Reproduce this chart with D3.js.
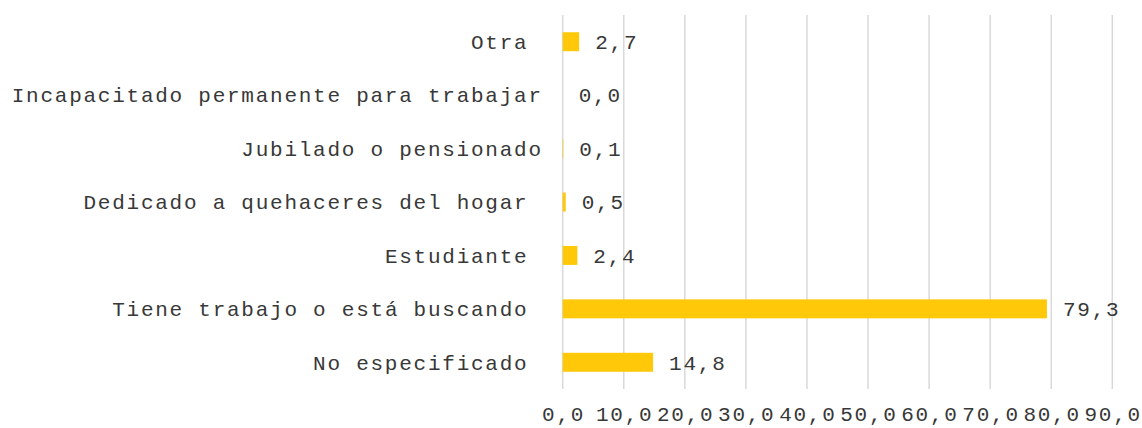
<!DOCTYPE html>
<html><head><meta charset="utf-8">
<script src="https://cdn.jsdelivr.net/npm/d3@7"></script>
<style>
html,body{margin:0;padding:0;background:#fff;}
text{font-family:"Liberation Mono","Courier New",monospace;white-space:pre;}
</style></head>
<body>
<svg id="chart" width="1142" height="428"></svg>
<script>
const categories = ["Otra ", "Incapacitado permanente para trabajar", "Jubilado o pensionado", "Dedicado a quehaceres del hogar ", "Estudiante ", "Tiene trabajo o está buscando ", "No especificado "];
const values = [2.7, 0.0, 0.1, 0.5, 2.4, 79.3, 14.8];
const tickValues = [0, 10, 20, 30, 40, 50, 60, 70, 80, 90];
const tickLabels = ["0,0", "10,0", "20,0", "30,0", "40,0", "50,0", "60,0", "70,0", "80,0", "90,0"];

const svg = d3.select("#chart");
const x = d3.scaleLinear().domain([0, 90]).range([562.7, 1112.3]);
const y = d3.scaleBand().domain(categories).range([15, 389]).paddingInner(0.645).paddingOuter(0.3225);
const fs = 21, ls = 1.75, col = "#383838";
const fmt = v => v.toFixed(1).replace(".", ",");

// gridlines
svg.append("g").selectAll("line").data(tickValues).join("line")
  .attr("x1", d => x(d)).attr("x2", d => x(d))
  .attr("y1", 15).attr("y2", 389)
  .attr("stroke", "#d9d9d9").attr("stroke-width", 1.5);

// bars
svg.append("g").selectAll("rect").data(values).join("rect")
  .attr("x", x(0))
  .attr("y", (d, i) => y(categories[i]))
  .attr("width", d => x(d) - x(0))
  .attr("height", y.bandwidth())
  .attr("fill", "#ffc90a");

// value labels
svg.append("g").selectAll("text").data(values).join("text")
  .attr("x", d => x(d) + 16)
  .attr("y", (d, i) => y(categories[i]) + y.bandwidth() / 2)
  .attr("dy", "0.35em")
  .attr("font-size", fs).attr("letter-spacing", ls)
  .attr("fill", col)
  .text(d => fmt(d));

// category labels
svg.append("g").selectAll("text").data(categories).join("text")
  .attr("x", 541 + ls)
  .attr("y", d => y(d) + y.bandwidth() / 2)
  .attr("dy", "0.35em")
  .attr("text-anchor", "end")
  .attr("font-size", fs).attr("letter-spacing", ls)
  .attr("fill", col)
  .text(d => d);

// x tick labels
svg.append("g").selectAll("text").data(tickValues).join("text")
  .attr("x", d => x(d) + ls / 2)
  .attr("y", 414)
  .attr("dy", "0.35em")
  .attr("text-anchor", "middle")
  .attr("font-size", fs).attr("letter-spacing", ls)
  .attr("fill", col)
  .text((d, i) => tickLabels[i]);
</script>
</body></html>
